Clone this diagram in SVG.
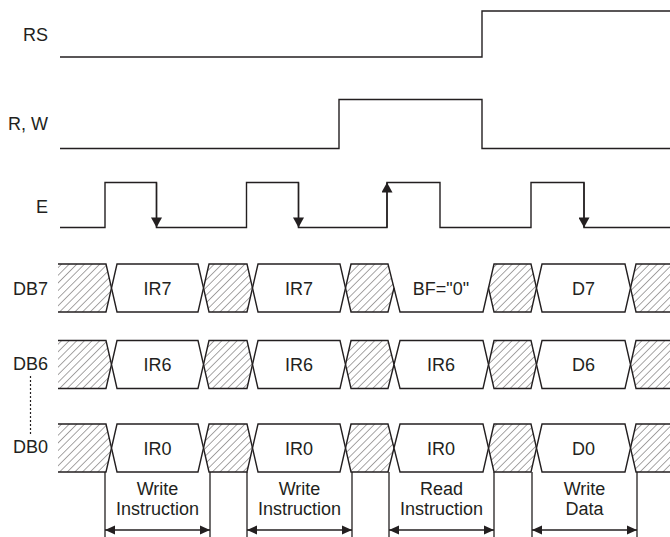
<svg xmlns="http://www.w3.org/2000/svg" width="670" height="537" viewBox="0 0 670 537">
<defs>
<style>
.sig{fill:none;stroke:#231f20;stroke-width:1.4;stroke-linejoin:miter}
.bus{fill:#fff;stroke:#231f20;stroke-width:1.4}
.hat{fill:url(#hatch);stroke:#231f20;stroke-width:1.4}
.lbl{font-family:"Liberation Sans",Arial,sans-serif;font-size:18px;fill:#231f20;text-anchor:end}
.txt{font-family:"Liberation Sans",Arial,sans-serif;font-size:18px;fill:#231f20;text-anchor:middle}
.dim{fill:none;stroke:#231f20;stroke-width:1.3}
</style>
<pattern id="hatch" patternUnits="userSpaceOnUse" width="5.4" height="5.4" patternTransform="rotate(45)">
<rect width="5.4" height="5.4" fill="#fff"/>
<line x1="0" y1="0" x2="0" y2="5.4" stroke="#231f20" stroke-width="0.8"/>
</pattern>
<marker id="ah" viewBox="0 0 10 10" refX="10" refY="5" markerWidth="10" markerHeight="10" markerUnits="userSpaceOnUse" orient="auto-start-reverse">
<path d="M0,0.5 L10,5 L0,9.5 Z" fill="#231f20"/>
</marker>
<marker id="eh" viewBox="0 0 10 11" refX="10" refY="5.5" markerWidth="11" markerHeight="11" markerUnits="userSpaceOnUse" orient="auto">
<path d="M0,0 L10,5.5 L0,11 Z" fill="#231f20"/>
</marker>
<g id="hatches">
<path class="hat" d="M58,0 H106 L111.5,24 L106,48 H58"/>
<path class="hat" d="M203.5,24 L209,0 H247 L252.5,24 L247,48 H209 Z"/>
<path class="hat" d="M345.5,24 L351,0 H388 L394,24 L388,48 H351 Z"/>
<path class="hat" d="M488.5,24 L494,0 H531 L536.5,24 L531,48 H494 Z"/>
<path class="hat" d="M630.5,24 L636,0 H674 V48 H636 Z"/>
</g>
</defs>

<g id="labels">
<text class="lbl" x="48" y="40.5">RS</text>
<text class="lbl" x="48" y="130">R, W</text>
<text class="lbl" x="48" y="213">E</text>
<text class="lbl" x="48" y="295">DB7</text>
<text class="lbl" x="48" y="370">DB6</text>
<text class="lbl" x="48" y="453">DB0</text>
<line x1="30.5" y1="376" x2="30.5" y2="436" stroke="#231f20" stroke-width="1.2" stroke-dasharray="2,2"/>
</g>

<g id="signal-RS">
<polyline class="sig" points="60,57 482,57 482,11 672,11"/>
</g>
<g id="signal-RW">
<polyline class="sig" points="60,148.5 339,148.5 339,99.5 482,99.5 482,148.5 672,148.5"/>
</g>
<g id="signal-E">
<polyline class="sig" points="60,227.5 105,227.5 105,182.5 156.5,182.5 156.5,227.5 246.5,227.5 246.5,182.5 298.5,182.5 298.5,227.5 387,227.5 387,182.5 440,182.5 440,227.5 531,227.5 531,182.5 584,182.5 584,227.5 672,227.5"/>
</g>

<g id="bus-DB7" transform="translate(0,264)">
<use href="#hatches"/>
<path class="bus" d="M111.5,24 L117,0 H198 L203.5,24 L198,48 H117 Z"/>
<path class="bus" d="M252.5,24 L258,0 H340 L345.5,24 L340,48 H258 Z"/>
<path class="sig" d="M394,24 L400,48 H483 L488.5,24"/>
<path class="bus" d="M536.5,24 L542,0 H625 L630.5,24 L625,48 H542 Z"/>
<text class="txt" x="157.5" y="30.5">IR7</text>
<text class="txt" x="299" y="30.5">IR7</text>
<text class="txt" x="441" y="30.5">BF="0"</text>
<text class="txt" x="583.5" y="30.5">D7</text>
</g>

<g id="bus-DB6" transform="translate(0,340.5)">
<use href="#hatches"/>
<path class="bus" d="M111.5,24 L117,0 H198 L203.5,24 L198,48 H117 Z"/>
<path class="bus" d="M252.5,24 L258,0 H340 L345.5,24 L340,48 H258 Z"/>
<path class="bus" d="M394,24 L400,0 H483 L488.5,24 L483,48 H400 Z"/>
<path class="bus" d="M536.5,24 L542,0 H625 L630.5,24 L625,48 H542 Z"/>
<text class="txt" x="157.5" y="30.5">IR6</text>
<text class="txt" x="299" y="30.5">IR6</text>
<text class="txt" x="441" y="30.5">IR6</text>
<text class="txt" x="583.5" y="30.5">D6</text>
</g>

<g id="bus-DB0" transform="translate(0,424)">
<use href="#hatches"/>
<path class="bus" d="M111.5,24 L117,0 H198 L203.5,24 L198,48 H117 Z"/>
<path class="bus" d="M252.5,24 L258,0 H340 L345.5,24 L340,48 H258 Z"/>
<path class="bus" d="M394,24 L400,0 H483 L488.5,24 L483,48 H400 Z"/>
<path class="bus" d="M536.5,24 L542,0 H625 L630.5,24 L625,48 H542 Z"/>
<text class="txt" x="157.5" y="30.5">IR0</text>
<text class="txt" x="299" y="30.5">IR0</text>
<text class="txt" x="441" y="30.5">IR0</text>
<text class="txt" x="583.5" y="30.5">D0</text>
</g>

<g id="connectors">
<line class="sig" x1="156.5" y1="182.5" x2="156.5" y2="227.5" marker-end="url(#eh)"/>
<line class="sig" x1="298.5" y1="182.5" x2="298.5" y2="227.5" marker-end="url(#eh)"/>
<line class="sig" x1="387" y1="227.5" x2="387" y2="182.5" marker-end="url(#eh)"/>
<line class="sig" x1="584" y1="182.5" x2="584" y2="227.5" marker-end="url(#eh)"/>
<g class="dim">
<line x1="105" y1="472" x2="105" y2="537"/>
<line x1="210" y1="472" x2="210" y2="537"/>
<line x1="247" y1="472" x2="247" y2="537"/>
<line x1="352" y1="472" x2="352" y2="537"/>
<line x1="389" y1="472" x2="389" y2="537"/>
<line x1="494" y1="472" x2="494" y2="537"/>
<line x1="532" y1="472" x2="532" y2="537"/>
<line x1="637" y1="472" x2="637" y2="537"/>
<line x1="105" y1="530" x2="210" y2="530" marker-start="url(#ah)" marker-end="url(#ah)"/>
<line x1="247" y1="530" x2="352" y2="530" marker-start="url(#ah)" marker-end="url(#ah)"/>
<line x1="389" y1="530" x2="494" y2="530" marker-start="url(#ah)" marker-end="url(#ah)"/>
<line x1="532" y1="530" x2="637" y2="530" marker-start="url(#ah)" marker-end="url(#ah)"/>
</g>
</g>

<g id="cycle-labels">
<text class="txt" x="157.5" y="495">Write</text>
<text class="txt" x="157.5" y="515">Instruction</text>
<text class="txt" x="299.5" y="495">Write</text>
<text class="txt" x="299.5" y="515">Instruction</text>
<text class="txt" x="441.5" y="495">Read</text>
<text class="txt" x="441.5" y="515">Instruction</text>
<text class="txt" x="584.5" y="495">Write</text>
<text class="txt" x="584.5" y="515">Data</text>
</g>
</svg>
